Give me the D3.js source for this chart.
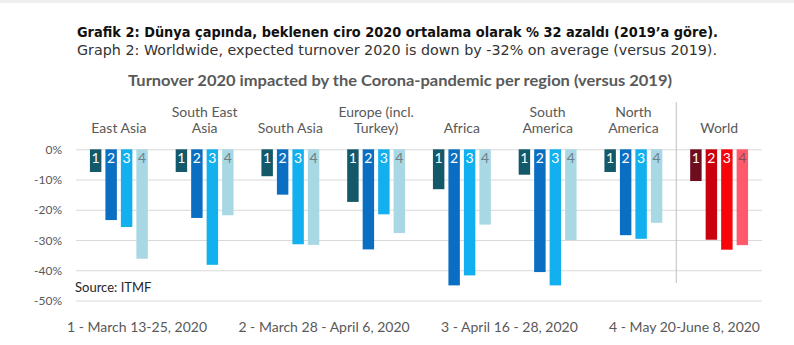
<!DOCTYPE html>
<html lang="en">
    <head>
        <meta charset="utf-8">
        <title>Turnover 2020 impacted by the Corona-pandemic per region</title>
        <script src="https://cdnjs.cloudflare.com/ajax/libs/d3/7.8.5/d3.min.js" charset="utf-8"></script>
        <style>
        body {
          margin: 0;
          background: #fff;
        }
        svg {
          display: block;
        }
        .chart text {
          font-family: Lato, 'Liberation Sans', sans-serif;
        }
        .grid line {
          stroke: #d9d9d9;
          stroke-width: 1;
        }
        </style>
    </head>
    <body>
        <svg width="794" height="345"></svg>

        <script type="text/javascript">
          // regions, one entry per group (label split in lines as in the chart)
          var regions = ["East Asia", "South East Asia", "South Asia", "Europe (incl. Turkey)",
                         "Africa", "South America", "North America", "World"];
          var regionLines = [["East Asia"], ["South East", "Asia"], ["South Asia"], ["Europe (incl.", "Turkey)"],
                             ["Africa"], ["South", "America"], ["North", "America"], ["World"]];

          // survey waves
          var surveys = ["1", "2", "3", "4"];
          var surveyLabels = ["1 - March 13-25, 2020", "2 - March 28 - April 6, 2020",
                              "3 - April 16 - 28, 2020", "4 - May 20-June 8, 2020"];

          // turnover change in % (versus 2019), per survey
          var survey1 = [-7.5, -7.5, -8.9, -17.4, -13.2, -8.4, -7.5, -10.5];
          var survey2 = [-23.4, -22.7, -15.0, -33.1, -45.0, -40.6, -28.4, -29.9];
          var survey3 = [-25.7, -38.2, -31.4, -21.5, -41.7, -45.0, -29.6, -33.2];
          var survey4 = [-36.2, -21.8, -31.6, -27.7, -24.9, -30.0, -24.3, -31.7];

          var yTicks = [0, -10, -20, -30, -40, -50];

          var blues = ["#14596a", "#0a6ec2", "#12b0ee", "#a9d8e5"];
          var reds = ["#6e0d1f", "#c9000e", "#f8050c", "#ff5a6c"];

          var series = [survey1, survey2, survey3, survey4];
          var data = [];
          regions.forEach(function(r, i) {
              surveys.forEach(function(s, j) {
                  data.push({region: r, survey: s, idx: j, value: series[j][i]});
              });
          });

          var svg = d3.select("svg").classed("chart", true);

          var plotLeft = 76, plotRight = 762, plotTop = 149.3, plotBottom = 300.5;

          var xScale = d3.scaleBand()
                         .domain(regions)
                         .range([plotLeft, plotRight]);

          var xInner = d3.scaleBand()
                         .domain(surveys)
                         .range([0, xScale.bandwidth()])
                         .paddingInner(0.26)
                         .paddingOuter(0.9);

          var yScale = d3.scaleLinear()
                         .domain([0, -50])
                         .range([plotTop, plotBottom]);

          // thin grey strip at the very top
          svg.append("rect")
              .attr("x", 0).attr("y", 0)
              .attr("width", 794).attr("height", 3)
              .attr("fill", "#efefef");

          // titles
          svg.append("text")
              .attr("x", 77).attr("y", 36.5)
              .attr("textLength", 641)
              .attr("lengthAdjust", "spacingAndGlyphs")
              .style("font-family", "'DejaVu Sans', sans-serif")
              .style("font-weight", "bold")
              .style("font-size", "14px")
              .attr("fill", "#111")
              .text("Grafik 2: Dünya çapında, beklenen ciro 2020 ortalama olarak % 32 azaldı (2019’a göre).");

          svg.append("text")
              .attr("x", 77).attr("y", 55)
              .attr("textLength", 640)
              .attr("lengthAdjust", "spacingAndGlyphs")
              .style("font-family", "'DejaVu Sans', sans-serif")
              .style("font-size", "14px")
              .attr("fill", "#333")
              .text("Graph 2: Worldwide, expected turnover 2020 is down by -32% on average (versus 2019).");

          svg.append("text")
              .attr("x", 128).attr("y", 86)
              .attr("textLength", 544)
              .attr("lengthAdjust", "spacingAndGlyphs")
              .style("font-weight", "bold")
              .style("font-size", "16px")
              .attr("fill", "#595959")
              .text("Turnover 2020 impacted by the Corona-pandemic per region (versus 2019)");

          // y axis with gridlines
          var yAxis = d3.axisLeft(yScale)
                        .tickValues(yTicks)
                        .tickSize(-(plotRight - plotLeft))
                        .tickSizeOuter(0)
                        .tickFormat(d => d + "%");

          var gy = svg.append("g")
              .attr("class", "grid")
              .attr("transform", "translate(" + plotLeft + ",0)")
              .call(yAxis);
          gy.select(".domain").remove();
          gy.selectAll("text")
              .attr("x", -14)
              .attr("dy", "0.35em")
              .attr("fill", "#595959")
              .style("font-size", "12px");

          // separator before World
          svg.append("line")
              .attr("x1", xScale("World")).attr("x2", xScale("World"))
              .attr("y1", 102).attr("y2", 283)
              .attr("stroke", "#bfbfbf")
              .attr("stroke-width", 1);

          // region labels
          var labels = svg.append("g");
          regions.forEach(function(r, i) {
              var lines = regionLines[i];
              lines.forEach(function(l, k) {
                  labels.append("text")
                      .attr("x", xScale(r) + xScale.bandwidth() / 2)
                      .attr("y", 133 - (lines.length - 1 - k) * 16)
                      .attr("text-anchor", "middle")
                      .attr("fill", "#595959")
                      .style("font-size", "14px")
                      .text(l);
              });
          });

          function barColor(d) {
              return d.region == "World" ? reds[d.idx] : blues[d.idx];
          }

          // bars
          svg.append("g")
            .selectAll("rect")
            .data(data)
            .enter()
            .append("rect")
              .attr("x", d => xScale(d.region) + xInner(d.survey))
              .attr("y", yScale(0))
              .attr("width", xInner.bandwidth())
              .attr("height", d => yScale(d.value) - yScale(0))
              .attr("fill", barColor);

          // survey number inside each bar
          svg.append("g")
            .selectAll("text")
            .data(data)
            .enter()
            .append("text")
              .attr("x", d => xScale(d.region) + xInner(d.survey) + xInner.bandwidth() / 2)
              .attr("y", 162.5)
              .attr("text-anchor", "middle")
              .attr("fill", d => d.idx == 3 ? (d.region == "World" ? "#8a4a55" : "#6f7f86") : "#fff")
              .style("font-size", "14px")
              .text(d => d.survey);

          // source
          svg.append("text")
              .attr("x", 75).attr("y", 291.5)
              .attr("fill", "#262626")
              .style("font-size", "13px")
              .text("Source: ITMF");

          // survey dates below the chart, spread with equal gaps between 67 and 760
          var legend = svg.append("g");
          var items = legend.selectAll("text")
            .data(surveyLabels)
            .enter()
            .append("text")
              .attr("y", 331.5)
              .attr("fill", "#595959")
              .style("font-size", "14px")
              .text(d => d);

          var widths = [];
          items.each(function() { widths.push(this.getComputedTextLength()); });
          var gap = (760 - 67 - d3.sum(widths)) / (widths.length - 1);
          var pos = 67;
          items.attr("x", function(d, i) {
              var x = pos;
              pos += widths[i] + gap;
              return x;
          });
        </script>
    </body>
</html>
